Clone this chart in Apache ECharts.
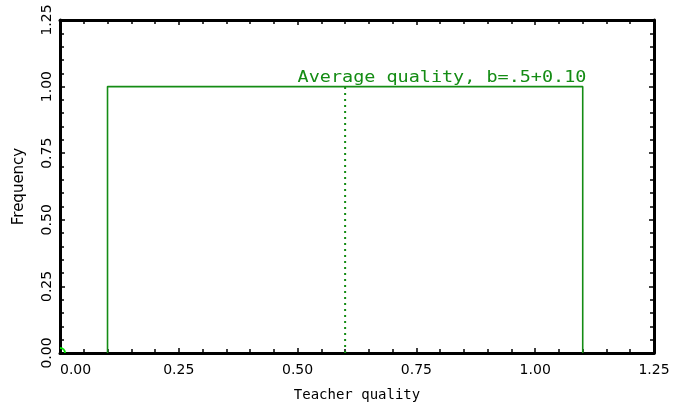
<!DOCTYPE html>
<html>
<head>
<meta charset="utf-8">
<script src="https://cdn.jsdelivr.net/npm/echarts@6/dist/echarts.min.js"></script>
<style>
html,body{margin:0;padding:0;background:#fff;}
#chart{width:684px;height:408px;}
</style>
</head>
<body>
<div id="chart"></div>
<script>
// Data
const stepX = [0.10, 0.10, 1.10, 1.10];
const stepY = [0, 1.00, 1.00, 0];
const meanX = [0.60, 0.60];
const meanY = [0, 1.00];
const originPoint = [0, 0];
const annotationText = 'Average quality, b=.5+0.10';
const annotationPos = [0.50, 1.005];
const xRange = [0, 1.25];
const yRange = [0, 1.25];
const tickStep = 0.25;

const GREEN = 'rgb(20,140,20)';
const chart = echarts.init(document.getElementById('chart'));

function axisCommon(showLabels) {
  return {
    type: 'value',
    min: xRange[0], max: xRange[1], interval: tickStep,
    axisLine: {show: true, onZero: false, lineStyle: {color: '#000', width: 3}},
    axisTick: {show: true, inside: true, length: 5, lineStyle: {color: '#000', width: 1.5}},
    minorTick: {show: true, splitNumber: 5, length: 4, lineStyle: {color: '#000', width: 1.5}},
    splitLine: {show: false},
    minorSplitLine: {show: false},
    axisLabel: {show: showLabels}
  };
}

const xBottom = Object.assign(axisCommon(true), {
  position: 'bottom',
  name: 'Teacher quality', nameLocation: 'middle', nameGap: 35,
  nameTextStyle: {fontFamily: 'DejaVu Sans Mono', fontSize: 14, color: '#000'},
  axisLabel: {show: true, margin: 10, fontFamily: 'DejaVu Sans', fontSize: 14, color: '#000',
    alignMinLabel: 'left', formatter: v => v.toFixed(2)}
});
const xTop = Object.assign(axisCommon(false), {position: 'top'});
const yLeft = Object.assign(axisCommon(true), {
  min: yRange[0], max: yRange[1],
  position: 'left',
  name: 'Frequency', nameLocation: 'middle', nameGap: 33,
  nameTextStyle: {fontFamily: 'DejaVu Sans', fontSize: 15, color: '#000'},
  axisLabel: {show: true, rotate: 90, margin: 6, fontFamily: 'DejaVu Sans', fontSize: 14, color: '#000',
    formatter: v => v.toFixed(2)}
});
const yRight = Object.assign(axisCommon(false), {min: yRange[0], max: yRange[1], position: 'right'});

chart.setOption({
  animation: false,
  backgroundColor: '#fff',
  grid: {left: 60, right: 30, top: 20, bottom: 55, containLabel: false},
  xAxis: [xBottom, xTop],
  yAxis: [yLeft, yRight],
  series: [
    {
      type: 'line',
      data: stepX.map((x, i) => [x, stepY[i]]),
      showSymbol: false, symbol: 'none',
      lineStyle: {color: GREEN, width: 1.6},
      z: 3
    },
    {
      type: 'line',
      data: meanX.map((x, i) => [x, meanY[i]]),
      showSymbol: false, symbol: 'none',
      lineStyle: {color: GREEN, width: 2, type: [2, 4]},
      z: 3
    },
    {
      type: 'custom',
      data: [originPoint],
      clip: false,
      renderItem: function (params, api) {
        const p = api.coord([api.value(0), api.value(1)]);
        return {
          type: 'arc',
          shape: {cx: p[0], cy: p[1], r: 5, startAngle: -Math.PI / 2, endAngle: 0, clockwise: true},
          style: {stroke: '#00dd00', fill: null, lineWidth: 2},
          z2: 5
        };
      },
      z: 4
    },
    {
      type: 'custom',
      data: [annotationPos],
      clip: false,
      renderItem: function (params, api) {
        const p = api.coord([api.value(0), api.value(1)]);
        return {
          type: 'text',
          x: p[0], y: p[1],
          scaleX: 1.23,
          style: {
            text: annotationText,
            fill: GREEN,
            fontFamily: 'DejaVu Sans Mono',
            fontSize: 15,
            align: 'left',
            verticalAlign: 'bottom'
          }
        };
      },
      z: 4
    }
  ]
});
</script>
</body>
</html>
